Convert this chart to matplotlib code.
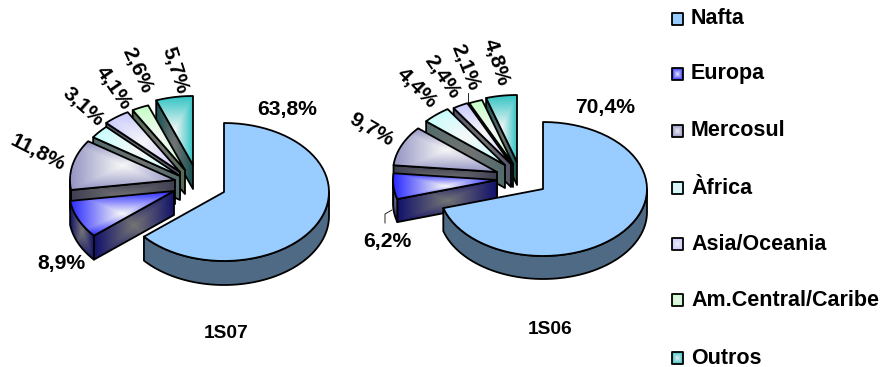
import numpy as np
import matplotlib
matplotlib.use("Agg")
import matplotlib.pyplot as plt
from matplotlib.patches import Polygon

plt.rcParams['font.family'] = ['Liberation Sans', 'DejaVu Sans']

regions = ["Nafta", "Europa", "Mercosul", "Àfrica", "Asia/Oceania", "Am.Central/Caribe", "Outros"]
values_1s07 = [63.8, 8.9, 11.8, 3.1, 4.1, 2.6, 5.7]
values_1s06 = [70.4, 6.2, 9.7, 4.4, 2.4, 2.1, 4.8]
colors = ["#99CCFF", "#2A2AFF", "#9494C4", "#C4FFFF", "#C8C8FF", "#C4FFC4", "#33C4C4"]

# exploded slice tips, pixels from the left edge / top edge
tips_1s07 = [(224, 192), (174, 191), (175, 180), (180, 176), (180, 172), (185, 170), (193, 165)]
tips_1s06 = [(543, 189), (497, 180), (497, 172), (505, 165), (511, 164), (513, 164), (517, 162)]

# label x, y, rotation
labels_1s07 = [(287, 110, 0), (61, 264, 0), (38, 153, -27), (83, 107, -42),
               (113, 88, -55), (137, 70, -65), (175, 70, -72)]
labels_1s06 = [(605, 108, 0), (387, 241, 0), (371, 130, -30), (417, 88, -45),
               (442, 77, -55), (465, 67, -68), (496, 62, -72)]

legend_y = [19, 74, 131, 188, 244, 300, 358]
LABEL_SIZE = 15.2
LEGEND_SIZE = 15.5
TITLE_SIZE = 13.8

fig = plt.figure(figsize=(8.93, 3.67), dpi=100)
ax = fig.add_axes([0, 0, 1, 1])
ax.set_xlim(0, 893)
ax.set_ylim(367, 0)
ax.axis("off")

z = [2]


def fill_poly(pts, edge, centre):
    # square gradient from the middle of the bounding box out to the edge colour
    pts = np.array(pts)
    z[0] += 1
    outline = Polygon(pts, closed=True, facecolor="none", edgecolor="black", lw=1.3,
                      joinstyle="round", zorder=z[0] + 0.5)
    ax.add_patch(outline)
    x0, y0 = pts.min(axis=0)
    x1, y1 = pts.max(axis=0)
    u, v = np.meshgrid(np.linspace(-1, 1, 80), np.linspace(-1, 1, 80))
    t = np.maximum(np.abs(u), np.abs(v))[..., None]
    rgb = np.array(centre) * (1 - t) + np.array(edge) * t
    clip = Polygon(pts, closed=True, transform=ax.transData)
    im = ax.imshow(rgb, extent=(x0, x1, y1, y0), aspect="auto", interpolation="bilinear", zorder=z[0])
    im.set_clip_path(clip)


def arc(tip, rx, ry, a0, a1, drop=0):
    ang = np.radians(np.linspace(a0, a1, 60))
    return np.column_stack([tip[0] + rx * np.cos(ang), tip[1] - ry * np.sin(ang) + drop])


def draw_pie(values, tips, rx, ry, depth):
    ends = 90 - np.cumsum(values) * 3.6
    starts = np.concatenate([[90], ends[:-1]])
    # back slices first, the big one last
    for i in range(len(values) - 1, -1, -1):
        a0, a1 = starts[i], ends[i]
        tip = tips[i]
        edge = np.array(matplotlib.colors.to_rgb(colors[i]))
        if i == 0:
            centre = edge
        else:
            centre = np.array([0.97, 0.97, 0.97])
        dark_edge = edge * 0.42 if i else edge * 0.52
        dark_centre = centre * 0.47 if i else edge * 0.52

        # cut faces that turn towards the viewer
        for a, visible in ((a0, np.cos(np.radians(a0)) < -0.01), (a1, np.cos(np.radians(a1)) > 0.01)):
            if visible:
                p = arc(tip, rx, ry, a, a, 0)[0]
                fill_poly([tip, p, (p[0], p[1] + depth), (tip[0], tip[1] + depth)], dark_edge, dark_centre)

        # outer wall on the lower half of the ellipse
        lo = max(a1, -180)
        hi = min(a0, 0)
        if hi > lo:
            top = arc(tip, rx, ry, hi, lo)
            bottom = arc(tip, rx, ry, lo, hi, depth)
            fill_poly(np.vstack([top, bottom]), dark_edge, dark_centre)

        rim = arc(tip, rx, ry, a0, a1)
        fill_poly(np.vstack([[tip], rim]), edge, centre)


draw_pie(values_1s07, tips_1s07, 105, 69, 24)
draw_pie(values_1s06, tips_1s06, 104, 67, 23)

for vals, labs in ((values_1s07, labels_1s07), (values_1s06, labels_1s06)):
    for v, (x, y, rot) in zip(vals, labs):
        ax.text(x, y, f"{v:.1f}%".replace(".", ","), fontsize=LABEL_SIZE, fontweight="bold",
                ha="center", va="center", rotation=rot, zorder=200)

# leader lines for the two crowded labels
ax.plot([385, 385, 392], [223, 214, 210], color="black", lw=0.6, zorder=150)
ax.plot([468, 468], [93, 103], color="black", lw=0.6, zorder=150)

ax.text(226, 333, "1S07", fontsize=TITLE_SIZE, fontweight="bold", ha="center", va="center", zorder=200)
ax.text(550, 330, "1S06", fontsize=TITLE_SIZE, fontweight="bold", ha="center", va="center", zorder=200)

for name, c, y in zip(regions, colors, legend_y):
    edge = np.array(matplotlib.colors.to_rgb(c))
    centre = edge if name == "Nafta" else np.array([0.93, 0.93, 0.95])
    fill_poly([(672, y - 6), (683, y - 6), (683, y + 6), (672, y + 6)], edge, centre)
    ax.text(691, y, name, fontsize=LEGEND_SIZE, fontweight="bold", ha="left", va="center", zorder=200)

ax.set_xlim(0, 893)
ax.set_ylim(367, 0)
fig.savefig("out.png", dpi=100)
